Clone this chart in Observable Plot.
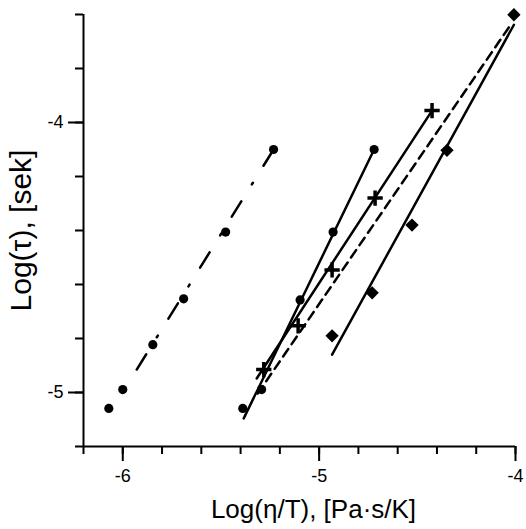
<!DOCTYPE html>
<html>
<head>
<meta charset="utf-8">
<script src="https://cdn.jsdelivr.net/npm/d3@7"></script>
<script src="https://cdn.jsdelivr.net/npm/@observablehq/plot@0.6"></script>
<style>
  html, body { margin: 0; padding: 0; background: #fff; }
  #chart svg { display: block; }
</style>
</head>
<body>
<div id="chart"></div>
<script>
// ---- data ----
const xLabel = "Log(\u03B7/T), [Pa\u00B7s/K]";
const yLabel = "Log(\u03C4), [sek]";

const xMajor = [-6, -5, -4];
const xMinor = [-6.2, -6, -5.8, -5.6, -5.4, -5.2, -5, -4.8, -4.6, -4.4, -4.2, -4];
const yMajor = [-5, -4];
const yMinor = [-5.2, -5, -4.8, -4.6, -4.4, -4.2, -4, -3.8, -3.6];

// series 1: circles, dash-dot fit
const s1x = [-6.071, -6.0, -5.847, -5.69, -5.476, -5.232];
const s1y = [-5.059, -4.989, -4.823, -4.653, -4.406, -4.1];
const f1x = [-5.929, -5.232];
const f1y = [-4.915, -4.100];

// series 2: circles, solid fit
const s2x = [-5.389, -5.293, -5.097, -4.929, -4.720];
const s2y = [-5.059, -4.989, -4.657, -4.406, -4.1];
const f2x = [-5.384, -4.720];
const f2y = [-5.096, -4.100];

// series 3: plus, solid fit
const s3x = [-5.282, -5.107, -4.934, -4.715, -4.425];
const s3y = [-4.915, -4.753, -4.546, -4.28, -3.956];
const f3x = [-5.318, -4.425];
const f3y = [-4.948, -3.956];

// series 4: diamonds, solid fit
const s4x = [-4.934, -4.730, -4.527, -4.349, -4.008];
const s4y = [-4.79, -4.631, -4.38, -4.103, -3.601];
const f4x = [-4.934, -4.008];
const f4y = [-4.86, -3.638];

// dashed common line
const fdx = [-5.313, -4.018];
const fdy = [-5.004, -3.631];

const xDomain = [-6.2, -4];
const yDomain = [-5.2, -3.6];

const pts = (xs, ys) => xs.map((x, i) => ({x, y: ys[i]}));

const font = "Liberation Sans, Arial, sans-serif";
const lw = 2.5;

const chart = Plot.plot({
  width: 526,
  height: 529,
  marginLeft: 83,
  marginRight: 11,
  marginTop: 14,
  marginBottom: 83,
  style: {fontFamily: font, background: "white", color: "black"},
  x: {domain: xDomain, axis: null},
  y: {domain: yDomain, axis: null},
  marks: [
    // axes
    Plot.axisX(xMinor, {anchor: "bottom", tickSize: 8, tickFormat: () => "", strokeWidth: 2, label: null}),
    Plot.axisX(xMajor, {anchor: "bottom", tickSize: 15, tickPadding: 8, tickFormat: d => String(d), fontSize: 18, strokeWidth: 2, label: null}),
    Plot.axisY(yMinor, {anchor: "left", tickSize: 8, tickFormat: () => "", strokeWidth: 2, label: null}),
    Plot.axisY(yMajor, {anchor: "left", tickSize: 15, tickPadding: 5, tickFormat: d => String(d), fontSize: 18, strokeWidth: 2, label: null}),
    Plot.ruleX([xDomain[0]], {y1: yDomain[0], y2: yDomain[1], strokeWidth: 2}),
    Plot.ruleY([yDomain[0]], {x1: xDomain[0], x2: xDomain[1], strokeWidth: 2}),
    // axis titles
    Plot.text([xLabel], {frameAnchor: "bottom", dx: 14, dy: 71, fontSize: 26, lineAnchor: "bottom", textAnchor: "middle", fontFamily: font}),
    Plot.text([yLabel], {x: () => xDomain[0], y: () => (yDomain[0] + yDomain[1]) / 2, dx: -62, rotate: -90, fontSize: 30, lineAnchor: "middle", textAnchor: "middle", fontFamily: font}),
    // fit lines
    Plot.line(pts(f1x, f1y), {x: "x", y: "y", stroke: "black", strokeWidth: lw, strokeDasharray: "18,20,2,20"}),
    Plot.line(pts(f2x, f2y), {x: "x", y: "y", stroke: "black", strokeWidth: lw}),
    Plot.line(pts(f3x, f3y), {x: "x", y: "y", stroke: "black", strokeWidth: lw}),
    Plot.line(pts(f4x, f4y), {x: "x", y: "y", stroke: "black", strokeWidth: lw}),
    Plot.line(pts(fdx, fdy), {x: "x", y: "y", stroke: "black", strokeWidth: lw, strokeDasharray: "9,6"}),
    // markers
    Plot.dot(pts(s1x, s1y), {x: "x", y: "y", r: 4.6, fill: "black"}),
    Plot.dot(pts(s2x, s2y), {x: "x", y: "y", r: 4.6, fill: "black"}),
    Plot.dot(pts(s3x, s3y), {x: "x", y: "y", r: 5, symbol: "plus", stroke: "black", strokeWidth: 3.5}),
    Plot.dot(pts(s4x, s4y), {x: "x", y: "y", r: 6, symbol: "diamond2", fill: "black"})
  ]
});

document.getElementById("chart").appendChild(chart);
</script>
</body>
</html>
